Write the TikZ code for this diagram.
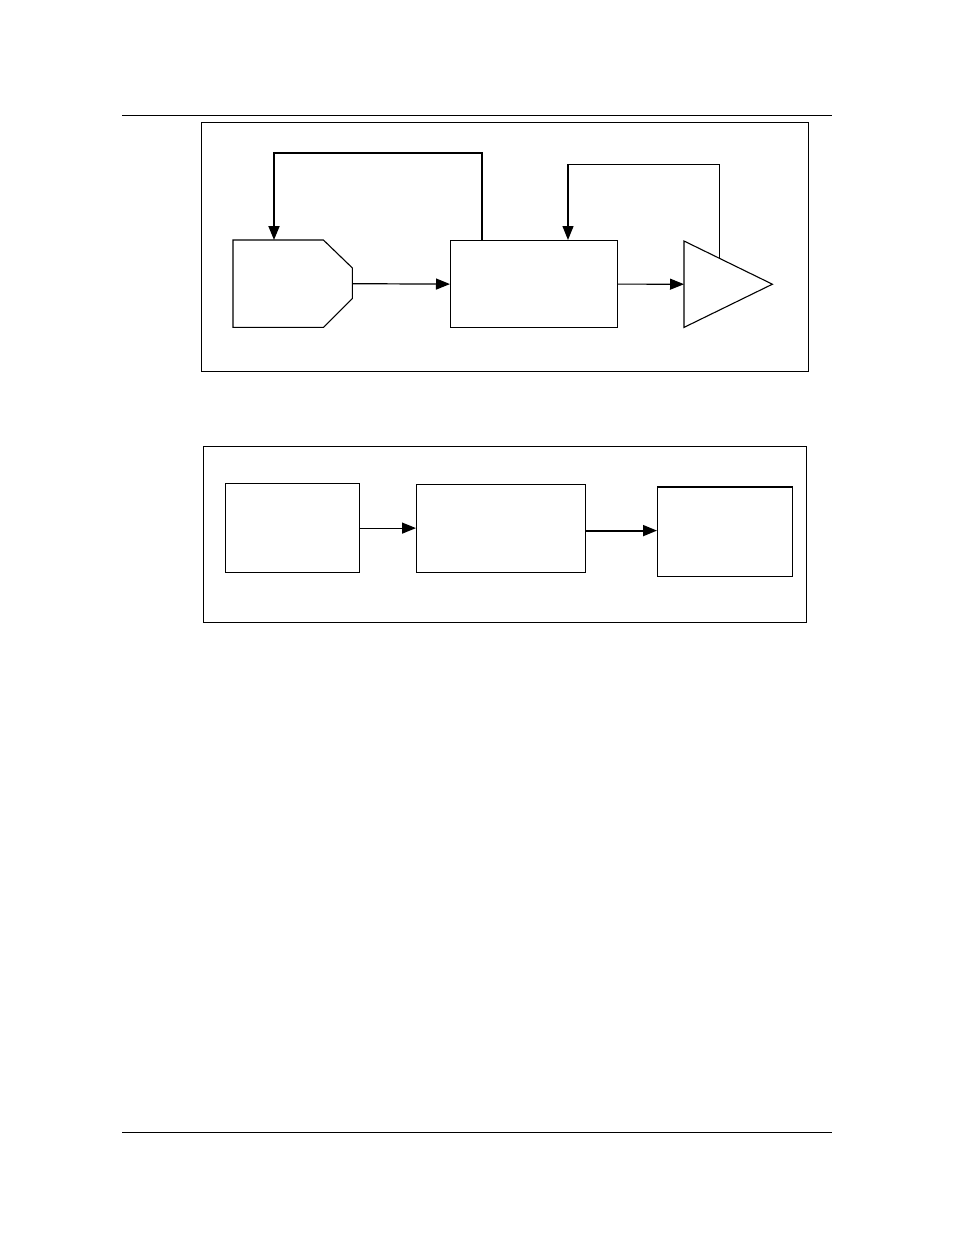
\documentclass[tikz,border=0pt]{standalone}
\usetikzlibrary{arrows.meta,calc}
\begin{document}
\begin{tikzpicture}[x=1pt,y=-1pt,
  frame/.style={draw, line width=1.2pt, inner sep=0pt, anchor=north west},
  box/.style={draw, line width=1.2pt, inner sep=0pt, anchor=north west},
  ghost/.style={inner sep=0pt, anchor=north west},
  outline/.style={line width=1.1pt, line join=miter},
  conn/.style={line width=1.2pt, -{Triangle[length=14pt,width=11pt]}},
  thickconn/.style={line width=1.8pt, -{Triangle[length=14pt,width=11pt]}},
  rulestyle/.style={line width=1pt}]
\useasboundingbox (0,0) rectangle (954,1235);
\fill[white] (0,0) rectangle (954,1235);
% page rules
\coordinate (r1a) at (122,115); \coordinate (r1b) at (832,115);
\coordinate (r2a) at (122,1132); \coordinate (r2b) at (832,1132);
\draw[rulestyle] (r1a) -- (r1b);
\draw[rulestyle] (r2a) -- (r2b);
% top frame
\node[frame, minimum width=607pt, minimum height=249pt] (topframe) at (201,122) {};
% source (chamfered shape)
\node[ghost, minimum width=119pt, minimum height=87pt] (src) at (233,240) {};
\draw[outline] (src.north west) -- ([xshift=-29pt]src.north east) -- ([yshift=-28pt]src.north east)
  -- ([yshift=29pt]src.south east) -- ([xshift=-29pt]src.south east) -- (src.south west) -- cycle;
% controller box
\node[box, minimum width=167pt, minimum height=87pt] (ctl) at (450,240) {};
% amplifier triangle
\node[ghost, minimum width=88pt, minimum height=86pt] (amp) at (684,241) {};
\draw[outline] (amp.north west) -- (amp.east) -- (amp.south west) -- cycle;
% connectors
\draw[conn] (src.east) -- (ctl.west);
\draw[conn] (ctl.east) -- (amp.west);
\draw[thickconn] ([xshift=32pt]ctl.north west) -- ([xshift=32pt,yshift=87pt]ctl.north west)
  -| ([xshift=41pt]src.north west);
\coordinate (tap) at ($(amp.north west)!0.397!(amp.east)$);
\draw[conn] (tap) -- ([yshift=94pt]tap) -| ([xshift=118pt]ctl.north west);
% bottom frame
\node[frame, minimum width=603pt, minimum height=176pt] (botframe) at (203,446) {};
\node[box, minimum width=134pt, minimum height=89pt] (ba) at (225,483) {};
\node[box, minimum width=169pt, minimum height=88pt] (bb) at (416,484) {};
\node[box, minimum width=135pt, minimum height=89pt] (bc) at (657,487) {};
\draw[line width=2pt] (bc.north west) -- (bc.north east);
\draw[conn] (ba.east) -- (ba.east -| bb.west);
\draw[thickconn] ([yshift=-2pt]bb.east) -- ([yshift=-2pt]bb.east -| bc.west);
\end{tikzpicture}
\end{document}
